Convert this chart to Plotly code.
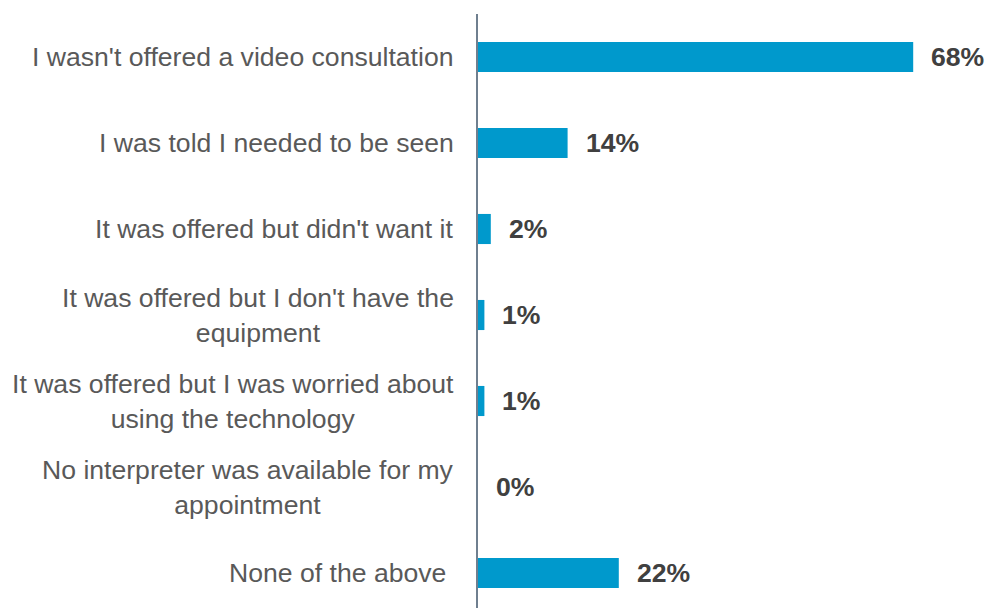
import plotly.graph_objects as go

categories = [
    "I wasn't offered a video consultation",
    "I was told I needed to be seen",
    "It was offered but didn't want it",
    "It was offered but I don't have the<br>equipment",
    "It was offered but I was worried about<br>using the technology",
    "No interpreter was available for my<br>appointment",
    "None of the above\u00a0",
]
values = [68, 14, 2, 1, 1, 0, 22]
value_labels = ["68%", "14%", "2%", "1%", "1%", "0%", "22%"]

BAR_COLOR = "#0099CC"
LABEL_COLOR = "#595959"
VALUE_COLOR = "#404040"
FONT = "Liberation Sans, Arial, sans-serif"

idx = list(range(len(categories)))

fig = go.Figure(
    go.Bar(
        x=values,
        y=idx,
        orientation="h",
        width=0.35,
        marker=dict(color=BAR_COLOR, line=dict(width=0)),
        hoverinfo="skip",
    )
)

annotations = []
for i, (cat, v, lab) in enumerate(zip(categories, values, value_labels)):
    annotations.append(dict(
        x=0, xref="paper", y=i, yref="y",
        text=cat, showarrow=False,
        xanchor="right", yanchor="middle", align="center",
        xshift=-22,
        font=dict(family=FONT, size=26.6, color=LABEL_COLOR),
    ))
    annotations.append(dict(
        x=v, xref="x", y=i, yref="y",
        text="<b>" + lab + "</b>", showarrow=False,
        xanchor="left", yanchor="middle",
        xshift=16,
        font=dict(family=FONT, size=26.6, color=VALUE_COLOR),
    ))

fig.update_layout(
    width=986, height=608,
    margin=dict(l=478, r=0, t=14, b=0),
    paper_bgcolor="white", plot_bgcolor="white",
    showlegend=False,
    annotations=annotations,
    xaxis=dict(range=[0, 508 / 6.4], visible=False, fixedrange=True),
    yaxis=dict(
        range=[-0.5 + 594 / 86, -0.5],
        showticklabels=False, ticks="", showgrid=False, zeroline=False,
        showline=True, linecolor="#6F7F8F", linewidth=2,
        fixedrange=True,
    ),
)

fig.write_html("out.html")
